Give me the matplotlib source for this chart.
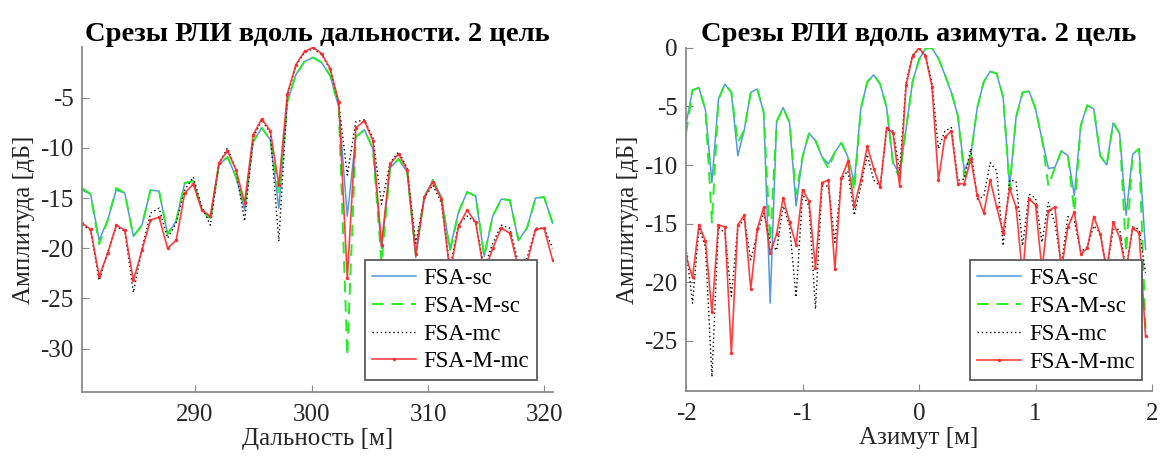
import numpy as np
import matplotlib
matplotlib.use("Agg")
import matplotlib.pyplot as plt

plt.rcParams["font.family"] = ["Liberation Serif", "DejaVu Serif"]

# Range cut (left panel): 56 samples from 280.3 m to 320.7 m
range_m = np.linspace(280.3, 320.7, 56)
range_sc = [-14.2, -14.6, -19.2, -17.2, -14.2, -14.5, -18.8, -17.7, -14.2, -14.3,
            -18.6, -17.3, -13.5, -13.3, -16.1, -17.0, -11.7, -10.9, -12.9, -16.2,
            -9.4, -8.0, -9.2, -16.0, -5.4, -2.7, -1.4, -1.0, -1.5, -2.8,
            -5.9, -16.8, -8.9, -8.2, -10.1, -20.0, -12.0, -11.1, -12.4, -20.9,
            -14.9, -13.2, -14.9, -20.1, -16.4, -14.4, -14.8, -20.8, -16.8, -15.1,
            -15.2, -19.2, -18.0, -15.0, -14.9, -17.5]
range_msc = [-14.0, -14.6, -19.6, -17.2, -14.0, -14.5, -18.8, -17.7, -14.2, -14.3,
             -18.6, -17.3, -13.5, -13.3, -16.1, -17.2, -11.7, -10.9, -12.9, -15.8,
             -9.4, -8.0, -9.2, -14.5, -5.4, -2.7, -1.4, -1.0, -1.5, -2.8,
             -5.9, -30.7, -8.9, -8.2, -10.1, -21.5, -12.0, -11.1, -12.4, -20.5,
             -14.9, -13.2, -14.9, -20.3, -16.4, -14.4, -14.8, -20.8, -16.8, -15.1,
             -15.2, -19.2, -18.0, -15.0, -14.9, -17.5]
range_mc = [-17.7, -18.2, -23.2, -20.4, -17.8, -18.3, -24.4, -20.1, -16.5, -16.0,
            -19.0, -17.5, -14.2, -12.9, -15.9, -17.7, -11.6, -10.0, -12.2, -17.3,
            -9.0, -7.2, -8.5, -19.3, -4.8, -1.8, -0.5, -0.1, -0.7, -2.2,
            -5.5, -12.7, -7.4, -7.2, -9.0, -15.6, -11.5, -10.4, -12.0, -19.5,
            -15.0, -13.7, -15.5, -22.0, -17.6, -16.8, -17.4, -22.0, -19.5, -17.7,
            -18.0, -21.5, -21.0, -18.0, -18.0, -20.0]
range_mmc = [-17.5, -18.1, -22.8, -20.5, -17.7, -18.2, -23.2, -20.2, -17.2, -16.9,
             -20.0, -19.2, -14.5, -13.6, -16.2, -16.8, -11.5, -10.3, -12.2, -15.5,
             -8.7, -7.1, -8.3, -13.7, -4.6, -1.7, -0.4, 0.0, -0.6, -2.1,
             -5.4, -23.0, -8.0, -7.3, -9.3, -19.7, -11.6, -10.6, -12.2, -20.6,
             -14.9, -13.4, -15.1, -22.5, -17.8, -16.2, -17.4, -22.5, -20.0, -18.0,
             -18.5, -22.0, -21.5, -18.1, -18.0, -21.2]

# Azimuth cut (right panel): 72 samples, step 1/18 m
az_m = np.arange(-36, 36) / 18.0
az_sc = [-6.5, -3.6, -3.4, -5.3, -11.5, -4.4, -3.1, -3.8, -9.2, -7.0,
         -3.8, -3.5, -5.5, -21.8, -6.3, -5.1, -6.4, -13.5, -9.3, -7.3,
         -7.9, -9.3, -9.9, -8.9, -8.1, -9.3, -11.5, -5.2, -2.9, -2.3,
         -3.1, -5.1, -9.8, -10.8, -6.9, -2.9, -1.0, -0.05, 0.0, -0.9,
         -2.3, -3.8, -5.8, -10.5, -9.2, -5.1, -2.9, -2.0, -2.2, -4.2,
         -11.8, -5.9, -3.8, -3.7, -5.2, -7.8, -10.3, -10.2, -8.8, -9.2,
         -12.6, -6.6, -4.9, -5.2, -9.2, -10.0, -6.4, -7.3, -14.3, -9.1,
         -8.6, -17.2]
az_msc = [-7.3, -3.6, -3.4, -5.3, -14.9, -4.4, -3.1, -3.8, -8.1, -7.0,
          -3.8, -3.5, -5.5, -16.5, -6.3, -5.1, -6.4, -12.5, -9.3, -7.3,
          -7.9, -9.3, -10.3, -8.9, -8.1, -9.3, -12.2, -5.2, -2.9, -2.3,
          -3.1, -5.1, -10.1, -11.0, -6.9, -2.9, -1.0, -0.05, 0.0, -0.9,
          -2.3, -3.8, -5.8, -11.0, -9.2, -5.1, -2.9, -2.0, -2.2, -4.2,
          -12.0, -5.9, -3.8, -3.7, -5.2, -7.8, -11.8, -10.2, -8.8, -9.2,
          -14.0, -6.6, -4.9, -5.2, -9.2, -10.0, -6.4, -7.3, -17.5, -9.1,
          -8.6, -24.0]
az_mc = [-17.1, -21.8, -15.3, -17.0, -28.1, -15.3, -15.8, -21.2, -15.3, -14.6,
         -18.1, -15.8, -14.1, -16.6, -17.3, -13.5, -15.2, -21.3, -12.5, -13.5,
         -22.3, -11.8, -11.8, -16.6, -11.2, -10.5, -14.3, -11.8, -9.1, -11.3,
         -11.8, -7.0, -7.1, -10.5, -3.0, -0.6, -0.1, -0.6, -3.0, -8.6,
         -7.1, -6.8, -11.3, -11.2, -8.6, -12.9, -12.7, -9.8, -10.5, -16.9,
         -11.3, -11.4, -16.9, -12.5, -12.8, -16.6, -13.2, -15.0, -18.5, -14.4,
         -14.8, -17.4, -17.0, -15.2, -15.8, -19.0, -15.5, -15.5, -19.0, -15.3,
         -15.5, -19.2]
az_mmc = [-17.8, -19.6, -15.1, -16.5, -22.6, -15.1, -15.3, -26.1, -15.1, -14.3,
          -20.6, -15.5, -13.6, -17.5, -15.9, -12.8, -14.9, -16.8, -12.1, -13.1,
          -18.8, -11.5, -11.3, -18.9, -11.1, -9.7, -13.5, -11.3, -8.4, -10.3,
          -11.9, -6.8, -7.3, -11.8, -3.2, -0.7, 0.0, -0.7, -3.3, -11.3,
          -7.6, -7.1, -11.6, -11.6, -9.5, -12.6, -14.1, -11.3, -13.6, -15.8,
          -12.0, -13.6, -19.5, -12.9, -13.4, -19.0, -13.9, -13.6, -19.0, -15.3,
          -14.0, -17.6, -17.1, -14.4, -15.9, -19.0, -14.9, -16.2, -19.0, -15.4,
          -15.8, -24.6]

labels = ["FSA-sc", "FSA-M-sc", "FSA-mc", "FSA-M-mc"]
BLUE = "#3f8ed6"
GREEN = "#22ee22"
RED = "#ff2a2a"
SPINE = "#8a8a8a"
TXT = "#262626"


def draw_panel(ax, x, sc, msc, mc, mmc):
    ax.plot(x, sc, color=BLUE, linewidth=1.1, alpha=0.9)
    ax.plot(x, msc, color=GREEN, linewidth=1.4, linestyle=(0, (6, 4)))
    ax.plot(x, mc, color="black", linewidth=1.0, linestyle=(0, (1, 2)))
    ax.plot(x, mmc, color=RED, linewidth=1.2, alpha=0.9,
            marker=".", markersize=3)
    for side in ("top", "right"):
        ax.spines[side].set_visible(False)
    for side in ("left", "bottom"):
        ax.spines[side].set_color(SPINE)
        ax.spines[side].set_linewidth(1.3)
    ax.tick_params(direction="in", length=5, color=SPINE,
                   labelsize=18, labelcolor=TXT)
    ax.tick_params(axis="x", pad=9)
    ax.tick_params(axis="y", pad=6)


def add_legend(ax, anchor):
    leg = ax.legend(labels, loc="lower right", bbox_to_anchor=anchor,
                    borderaxespad=0, fontsize=16.5, fancybox=False,
                    framealpha=1, edgecolor="#5a5a5a", handlelength=1.9,
                    labelspacing=0.3, handletextpad=0.35, borderpad=0.32)
    leg.get_frame().set_linewidth(1.3)


fig = plt.figure(figsize=(11.62, 4.61), dpi=100)
ax1 = fig.add_axes([0.0706, 0.150, 0.405, 0.747])
ax2 = fig.add_axes([0.5904, 0.152, 0.401, 0.744])

draw_panel(ax1, range_m, range_sc, range_msc, range_mc, range_mmc)
ax1.set_xlim(280.3, 320.7)
ax1.set_ylim(-34.3, 0.0)
ax1.set_xticks([290, 300, 310, 320])
ax1.set_yticks([-30, -25, -20, -15, -10, -5])
ax1.set_yticklabels(["-30", "-25", "-20", "-15", "-10", "-5"])
ax1.set_title("Срезы РЛИ вдоль дальности. 2 цель", fontsize=20.5,
              fontweight="bold", pad=5)
ax1.set_xlabel("Дальность [м]", fontsize=18, color=TXT, labelpad=1)
ax1.set_ylabel("Амплитуда [дБ]", fontsize=18, color=TXT, labelpad=4)
add_legend(ax1, (0.966, 0.035))

draw_panel(ax2, az_m, az_sc, az_msc, az_mc, az_mmc)
ax2.set_xlim(-2, 2)
ax2.set_ylim(-29.3, 0.0)
ax2.set_xticks([-2, -1, 0, 1, 2])
ax2.set_xticklabels(["-2", "-1", "0", "1", "2"])
ax2.set_yticks([-25, -20, -15, -10, -5, 0])
ax2.set_yticklabels(["-25", "-20", "-15", "-10", "-5", "0"])
ax2.set_title("Срезы РЛИ вдоль азимута. 2 цель", fontsize=20.5,
              fontweight="bold", pad=5)
ax2.set_xlabel("Азимут [м]", fontsize=18, color=TXT, labelpad=1)
ax2.set_ylabel("Амплитуда [дБ]", fontsize=18, color=TXT, labelpad=4)
add_legend(ax2, (0.9785, 0.032))

fig.savefig("out.png", dpi=100, facecolor="white")
